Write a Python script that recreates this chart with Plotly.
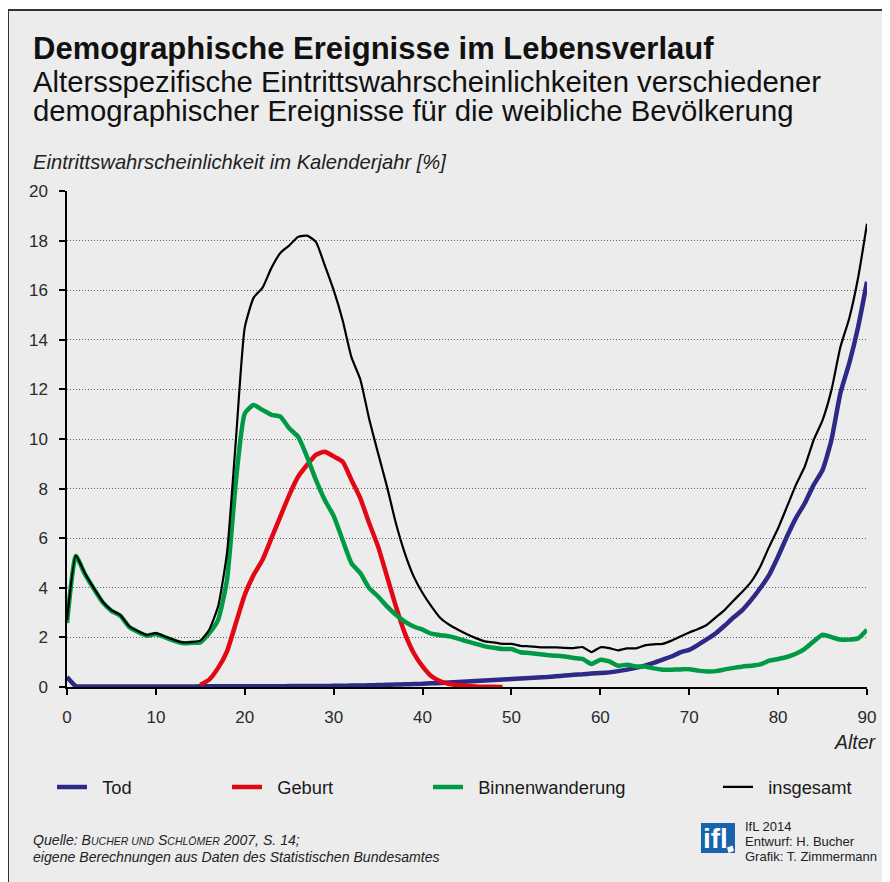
import plotly.graph_objects as go

# ---------------- data ----------------
ages = list(range(0, 91))

tod = [0.40, 0.03, 0.02, 0.02, 0.02, 0.02, 0.02, 0.02, 0.02, 0.02,
       0.02, 0.02, 0.02, 0.02, 0.02, 0.03, 0.03, 0.03, 0.03, 0.03,
       0.03, 0.03, 0.03, 0.03, 0.03, 0.04, 0.04, 0.04, 0.04, 0.04,
       0.05, 0.05, 0.06, 0.06, 0.07, 0.08, 0.09, 0.10, 0.11, 0.12,
       0.13, 0.15, 0.16, 0.18, 0.20, 0.22, 0.24, 0.26, 0.28, 0.30,
       0.32, 0.34, 0.36, 0.38, 0.40, 0.43, 0.46, 0.49, 0.51, 0.54,
       0.56, 0.59, 0.64, 0.70, 0.77, 0.86, 0.97, 1.10, 1.23, 1.40,
       1.50, 1.70, 1.93, 2.17, 2.48, 2.81, 3.11, 3.52, 3.99, 4.52,
       5.26, 6.07, 6.81, 7.41, 8.15, 8.75, 9.96, 11.84, 13.05, 14.52,
       16.34]

geburt_ages = list(range(15, 50))
geburt = [0.09, 0.30, 0.77, 1.44, 2.58, 3.72, 4.52, 5.13, 6.00, 6.87,
          7.74, 8.48, 8.95, 9.36, 9.49, 9.30, 9.09, 8.35, 7.61, 6.60,
          5.66, 4.46, 3.25, 2.17, 1.37, 0.83, 0.43, 0.23, 0.12, 0.07,
          0.04, 0.02, 0.01, 0.01, 0.00]

binnen = [2.58, 5.28, 4.56, 3.97, 3.42, 3.07, 2.87, 2.42, 2.22, 2.07,
          2.14, 2.01, 1.87, 1.77, 1.78, 1.80, 2.17, 2.71, 4.32, 8.30,
          11.03, 11.37, 11.17, 10.97, 10.90, 10.43, 10.09, 9.29, 8.35, 7.54,
          6.90, 5.93, 4.99, 4.59, 3.99, 3.65, 3.25, 2.91, 2.64, 2.44,
          2.31, 2.15, 2.09, 2.04, 1.95, 1.84, 1.74, 1.64, 1.58, 1.53,
          1.53, 1.40, 1.37, 1.33, 1.29, 1.26, 1.23, 1.17, 1.13, 0.93,
          1.10, 1.03, 0.86, 0.90, 0.83, 0.83, 0.75, 0.70, 0.70, 0.71,
          0.72, 0.66, 0.63, 0.64, 0.71, 0.77, 0.83, 0.86, 0.91, 1.06,
          1.13, 1.21, 1.34, 1.54, 1.84, 2.11, 2.01, 1.91, 1.91, 1.96,
          2.31]

insgesamt = [2.70, 5.30, 4.60, 4.00, 3.45, 3.10, 2.90, 2.45, 2.25, 2.10,
             2.17, 2.04, 1.90, 1.80, 1.81, 1.87, 2.31, 3.25, 5.40, 9.96,
             14.50, 15.70, 16.10, 16.90, 17.50, 17.80, 18.15, 18.20, 17.95, 17.00,
             16.00, 14.80, 13.30, 12.40, 10.80, 9.42, 8.08, 6.60, 5.40, 4.46,
             3.79, 3.25, 2.78, 2.51, 2.31, 2.13, 1.97, 1.84, 1.80, 1.74,
             1.74, 1.66, 1.64, 1.61, 1.60, 1.60, 1.58, 1.57, 1.61, 1.41,
             1.60, 1.57, 1.48, 1.56, 1.56, 1.68, 1.72, 1.74, 1.87, 2.04,
             2.20, 2.34, 2.51, 2.81, 3.11, 3.49, 3.85, 4.26, 4.86, 5.66,
             6.40, 7.27, 8.15, 8.89, 9.96, 10.76, 11.97, 13.70, 14.86, 16.50,
             18.68]

x_ticks = [0, 10, 20, 30, 40, 50, 60, 70, 80, 90]
y_ticks = [0, 2, 4, 6, 8, 10, 12, 14, 16, 18, 20]

# ---------------- layout helpers ----------------
# The page body has an 8px margin, so the figure is shifted by (8, 8).
OFF = 8
W, H = 890 - OFF, 882 - OFF
L, R, T, B = 67, 867, 191, 687   # plot area in reference (screen) pixels


def px(x):
    return (x - L) / (R - L)


def py(y):
    return (B - y) / (B - T)


FONT = "Liberation Sans, Arial, sans-serif"
C_TOD = "#2e2886"
C_GEB = "#e30613"
C_BIN = "#009a44"
C_ALL = "#000000"

fig = go.Figure()
fig.add_trace(go.Scatter(x=ages, y=tod, mode="lines", name="\u00a0\u00a0Tod",
                         line=dict(color=C_TOD, width=4.5, shape="spline", smoothing=0.5),
                         legend="legend"))
fig.add_trace(go.Scatter(x=geburt_ages, y=geburt, mode="lines", name="\u00a0\u00a0Geburt",
                         line=dict(color=C_GEB, width=4.5, shape="spline", smoothing=0.5),
                         legend="legend2"))
fig.add_trace(go.Scatter(x=ages, y=binnen, mode="lines", name="\u00a0\u00a0Binnenwanderung",
                         line=dict(color=C_BIN, width=4.5, shape="spline", smoothing=0.5),
                         legend="legend3"))
fig.add_trace(go.Scatter(x=ages, y=insgesamt, mode="lines", name="\u00a0\u00a0insgesamt",
                         line=dict(color=C_ALL, width=2.2, shape="spline", smoothing=0.5),
                         legend="legend4"))

leg_common = dict(orientation="h", xanchor="left", yanchor="middle",
                  bgcolor="rgba(0,0,0,0)", font=dict(family=FONT, size=18.3, color="#1a1a1a"))
leg_y = py(787)

annotations = [
    dict(text="<b>Demographische Ereignisse im Lebensverlauf</b>", x=px(31), y=py(48),
         font=dict(size=31, color="#111111")),
    dict(text="Altersspezifische Eintrittswahrscheinlichkeiten verschiedener", x=px(31), y=py(81),
         font=dict(size=29.3, color="#111111")),
    dict(text="demographischer Ereignisse für die weibliche Bevölkerung", x=px(31), y=py(111),
         font=dict(size=29.3, color="#111111")),
    dict(text="<i>Eintrittswahrscheinlichkeit im Kalenderjahr [%]</i>", x=px(31), y=py(162),
         font=dict(size=20.2, color="#222222")),
    dict(text="<i>Alter</i>", x=px(879), y=py(742), xanchor="right",
         font=dict(size=19.5, color="#222222")),
    dict(text="<i>Quelle: B<span style='font-size:10.5px'>UCHER UND</span> S"
              "<span style='font-size:10.5px'>CHLÖMER</span> 2007, S. 14;</i>",
         x=px(31), y=py(840), font=dict(size=14.1, color="#222222")),
    dict(text="<i>eigene Berechnungen aus Daten des Statistischen Bundesamtes</i>",
         x=px(31), y=py(857), font=dict(size=14.1, color="#222222")),
    dict(text="IfL 2014", x=px(743), y=py(826), font=dict(size=13, color="#222222")),
    dict(text="Entwurf: H. Bucher", x=px(743), y=py(841), font=dict(size=13, color="#222222")),
    dict(text="Grafik: T. Zimmermann", x=px(743), y=py(856), font=dict(size=13, color="#222222")),
    dict(text="<b>ifl</b>", x=px(715), y=py(838), xanchor="center",
         font=dict(size=28, color="#ffffff")),
]
for a in annotations:
    a.setdefault("xanchor", "left")
    a["yanchor"] = "middle"
    a["xref"] = "paper"
    a["yref"] = "paper"
    a["showarrow"] = False
    a["font"]["family"] = FONT

shapes = [
    # frame
    dict(type="rect", xref="paper", yref="paper", x0=px(8), x1=px(2000), y0=py(2000), y1=py(10),
         line=dict(color="#333333", width=2), fillcolor="#ececec", layer="below"),
    # logo
    dict(type="rect", xref="paper", yref="paper", x0=px(701), x1=px(735), y0=py(853), y1=py(823),
         line=dict(width=0), fillcolor="#1763ad", layer="above"),
    dict(type="path", xref="paper", yref="paper",
         path="M {} {} L {} {} L {} {} L {} {} Z".format(px(727), py(847.5), px(732.5), py(845.5),
                                                       px(734), py(851), px(728.5), py(853)),
         line=dict(width=0), fillcolor="#ffffff", layer="above"),
]

fig.update_layout(
    width=W, height=H,
    margin=dict(l=L - OFF, r=W - (R - OFF), t=T - OFF, b=H - (B - OFF), pad=0),
    paper_bgcolor="#ffffff",
    plot_bgcolor="rgba(0,0,0,0)",
    font=dict(family=FONT, size=17, color="#222222"),
    showlegend=True,
    legend=dict(x=px(52), y=leg_y, **leg_common),
    legend2=dict(x=px(227), y=leg_y, **leg_common),
    legend3=dict(x=px(428), y=leg_y, **leg_common),
    legend4=dict(x=px(718), y=leg_y, **leg_common),
    annotations=annotations,
    shapes=shapes,
    xaxis=dict(range=[0, 90], tickvals=x_ticks, ticktext=[str(v) for v in x_ticks],
               showline=True, linecolor="#000000", linewidth=1.5,
               ticks="outside", ticklen=6, tickwidth=1.5, tickcolor="#000000",
               showgrid=False, zeroline=False, ticklabelstandoff=8,
               tickfont=dict(size=17, color="#2a2a2a")),
    yaxis=dict(range=[0, 20], tickvals=y_ticks, ticktext=[str(v) for v in y_ticks],
               showline=True, linecolor="#000000", linewidth=1.5,
               ticks="outside", ticklen=6, tickwidth=1.5, tickcolor="#000000",
               showgrid=True, gridcolor="#666666", gridwidth=1, griddash="1px,2px",
               zeroline=False, ticklabelstandoff=8,
               tickfont=dict(size=17, color="#2a2a2a")),
)

fig.write_html("out.html")
